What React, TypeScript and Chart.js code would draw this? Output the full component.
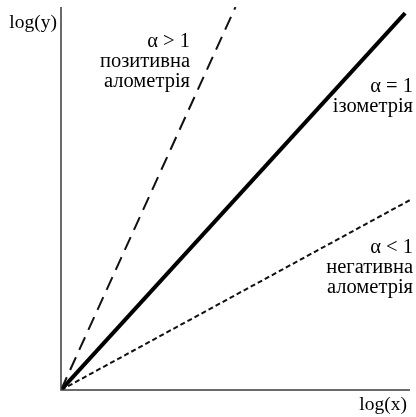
import React, { useEffect, useRef } from "react";
import { Chart, registerables } from "chart.js";

Chart.register(...registerables);

// Data (log-log allometry schematic)
const seriesNames = ["α > 1", "α = 1", "α < 1"];
const positiveX = [0, 5];
const positiveY = [0, 10];
const isoX = [0, 9.86];
const isoY = [0, 9.84];
const negativeX = [0, 10];
const negativeY = [0, 4.96];
const axisLabels = ["log(x)", "log(y)"];
const positiveText = ["α > 1", "позитивна", "алометрія"];
const isoText = ["α = 1", "ізометрія"];
const negativeText = ["α < 1", "негативна", "алометрія"];

const FONT = '20.5px "Liberation Serif", "Times New Roman", serif';
const AXIS_FONT = '19.5px "Liberation Serif", "Times New Roman", serif';

const toPoints = (xs: number[], ys: number[]) => xs.map((x, i) => ({ x, y: ys[i] }));

const overlay = {
  id: "overlay",
  afterDraw(chart: any) {
    const { ctx, chartArea } = chart;
    const { left, right, top, bottom } = chartArea;
    ctx.save();
    // axes
    ctx.strokeStyle = "#3a3a3a";
    ctx.lineWidth = 1.5;
    ctx.beginPath();
    ctx.moveTo(left, top);
    ctx.lineTo(left, bottom);
    ctx.lineTo(right, bottom);
    ctx.stroke();

    ctx.fillStyle = "#000";
    ctx.textBaseline = "alphabetic";

    // axis labels
    ctx.font = AXIS_FONT;
    ctx.textAlign = "right";
    ctx.fillText(axisLabels[1], left - 4, top + 21);
    ctx.fillText(axisLabels[0], right - 3, bottom + 20);

    ctx.font = FONT;
    const block = (lines: string[], x: number, y0: number) => {
      lines.forEach((t, i) => ctx.fillText(t, x, y0 + i * 20));
    };
    ctx.textAlign = "right";
    block(positiveText, 190, 47);
    block(isoText, 413, 92);
    block(negativeText, 413, 253);
    ctx.restore();
  },
};

export default function App() {
  const ref = useRef<HTMLCanvasElement | null>(null);
  useEffect(() => {
    if (!ref.current) return;
    const chart = new Chart(ref.current, {
      type: "scatter",
      data: {
        datasets: [
          {
            label: seriesNames[0],
            data: toPoints(positiveX, positiveY),
            showLine: true,
            borderColor: "#111",
            borderWidth: 2,
            borderDash: [14, 8],
            pointRadius: 0,
          },
          {
            label: seriesNames[1],
            data: toPoints(isoX, isoY),
            showLine: true,
            borderColor: "#000",
            borderWidth: 4,
            pointRadius: 0,
          },
          {
            label: seriesNames[2],
            data: toPoints(negativeX, negativeY),
            showLine: true,
            borderColor: "#111",
            borderWidth: 2,
            borderDash: [5, 3],
            pointRadius: 0,
          },
        ],
      },
      options: {
        animation: false,
        responsive: false,
        layout: { padding: { left: 61, right: 6, top: 7, bottom: 27 } },
        plugins: { legend: { display: false }, tooltip: { enabled: false } },
        scales: {
          x: { type: "linear", min: 0, max: 10, display: false },
          y: { type: "linear", min: 0, max: 10, display: false },
        },
      },
      plugins: [overlay],
    });
    return () => chart.destroy();
  }, []);
  return (
    <div style={{ position: "absolute", left: 0, top: 0, width: 416, height: 417, background: "#fff" }}>
      <canvas ref={ref} width={416} height={417} />
    </div>
  );
}
